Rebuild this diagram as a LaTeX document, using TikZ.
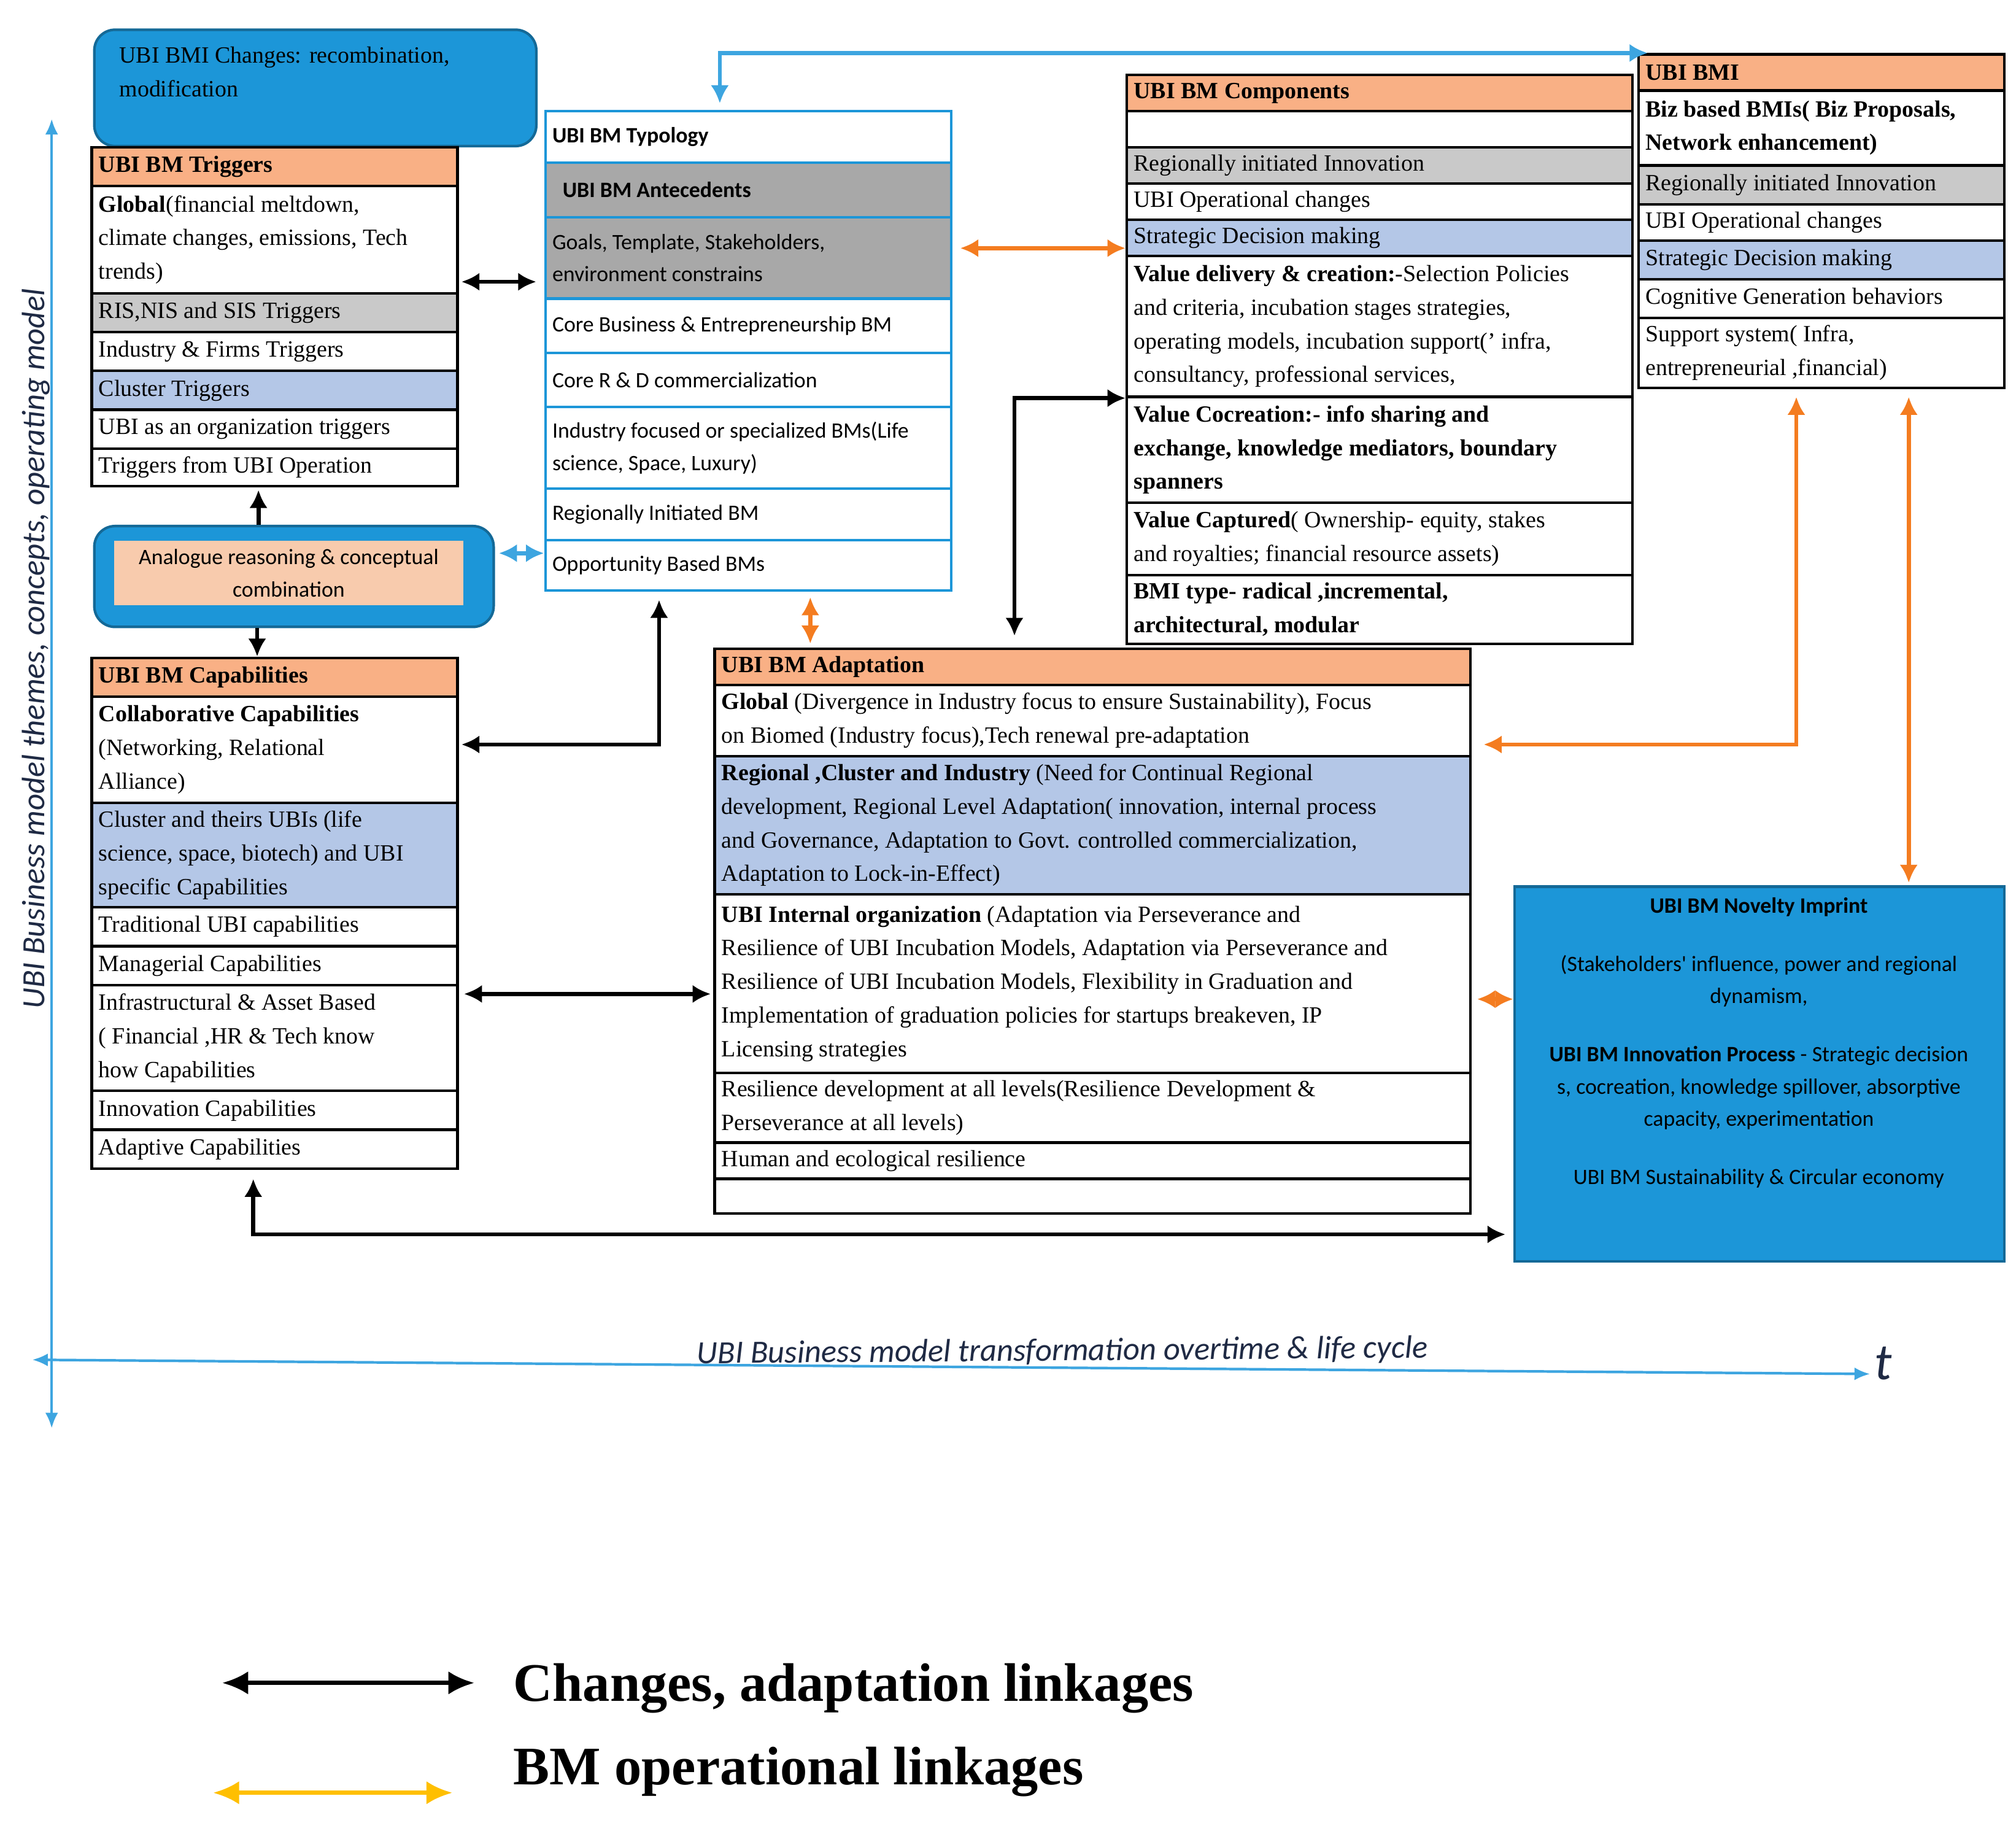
\documentclass[tikz,border=0pt]{standalone}
\usepackage{fontspec}
\setmainfont{Liberation Serif}
\newfontfamily\sansf{Carlito}
\usetikzlibrary{arrows.meta,calc}
\definecolor{hdr}{HTML}{F9B085}
\definecolor{gry}{HTML}{C9C9C9}
\definecolor{dgry}{HTML}{A8A8A8}
\definecolor{blu}{HTML}{B4C7E7}
\definecolor{bbox}{HTML}{1C96D8}
\definecolor{salm}{HTML}{F8CBAD}
\definecolor{orng}{HTML}{F47C20}
\definecolor{yel}{HTML}{FFBF00}
\definecolor{axc}{HTML}{3DA5E0}
\definecolor{navy}{HTML}{1F2A44}
\tikzset{
 box/.style={draw=black,line width=1pt,anchor=north west,inner sep=0pt},
 bbx/.style={box,draw=bbox},
 txt/.style={anchor=west,align=left,inner sep=0pt,font=\fontsize{9}{13}\selectfont},
 stxt/.style={anchor=west,align=left,inner sep=0pt,font=\sansf\fontsize{8.5}{12.5}\selectfont},
 blk/.style={line width=1.6pt,{Latex[length=7pt,width=7pt]}-{Latex[length=7pt,width=7pt]}},
 org/.style={blk,draw=orng},
 blu/.style={blk,draw=axc},
}
% \cell{name}{x1}{x2}{y1}{y2}{fill}{style}{text}
\newcommand\cell[8]{%
 \node[box,fill=#6,minimum width={(#3-#2)*0.5pt},minimum height={(#5-#4)*0.5pt}] (#1) at (#2,#4) {};
 \node[#7] at ($(#1.west)+(6,0)$) {#8};}
\newcommand\bcell[8]{%
 \node[bbx,fill=#6,minimum width={(#3-#2)*0.5pt},minimum height={(#5-#4)*0.5pt}] (#1) at (#2,#4) {};
 \node[#7] at ($(#1.west)+(6,0)$) {#8};}
\begin{document}
\begin{tikzpicture}[x=0.5pt,y=-0.5pt]
\useasboundingbox (0,0) rectangle (1560,1410);
\fill[white] (0,0) rectangle (1560,1410);
% top-left blue box
\node[draw=bbox!70!black,fill=bbox,rounded corners=8pt,line width=1pt,anchor=north west,minimum width=171pt,minimum height=45pt] (chg) at (72,22) {};
\node[txt,anchor=north west] at (92,36) {UBI BMI Changes: recombination,\\modification};
% Triggers
\cell{th}{70}{353}{113}{143}{hdr}{txt}{\textbf{UBI BM Triggers}}
\cell{t1}{70}{353}{143}{226}{white}{txt}{\textbf{Global}(financial meltdown,\\climate changes, emissions, Tech\\trends)}
\cell{t2}{70}{353}{226}{256}{gry}{txt}{RIS,NIS and SIS Triggers}
\cell{t3}{70}{353}{256}{286}{white}{txt}{Industry \& Firms Triggers}
\cell{t4}{70}{353}{286}{316}{blu}{txt}{Cluster Triggers}
\cell{t5}{70}{353}{316}{346}{white}{txt}{UBI as an organization triggers}
\cell{t6}{70}{353}{346}{375}{white}{txt}{Triggers from UBI Operation}
% Analogue
\node[draw=bbox!70!black,fill=bbox,rounded corners=8pt,line width=1pt,anchor=north west,minimum width=154.5pt,minimum height=39pt] (ana) at (72,406) {};
\node[fill=salm,anchor=north west,minimum width=135pt,minimum height=25pt,inner sep=0pt] (anai) at (88,418) {};
\node[align=center,inner sep=0pt,font=\sansf\fontsize{8.5}{12.5}\selectfont] at (anai.center) {Analogue reasoning \& conceptual\\combination};
% Capabilities
\cell{ch}{70}{353}{508}{538}{hdr}{txt}{\textbf{UBI BM Capabilities}}
\cell{c1}{70}{353}{538}{620}{white}{txt}{\textbf{Collaborative Capabilities}\\(Networking, Relational\\Alliance)}
\cell{c2}{70}{353}{620}{701}{blu}{txt}{Cluster and theirs UBIs (life\\science, space, biotech) and UBI\\specific Capabilities}
\cell{c3}{70}{353}{701}{731}{white}{txt}{Traditional UBI capabilities}
\cell{c4}{70}{353}{731}{761}{white}{txt}{Managerial Capabilities}
\cell{c5}{70}{353}{761}{843}{white}{txt}{Infrastructural \& Asset Based\\( Financial ,HR \& Tech know\\how Capabilities}
\cell{c6}{70}{353}{843}{873}{white}{txt}{Innovation Capabilities}
\cell{c7}{70}{353}{873}{903}{white}{txt}{Adaptive Capabilities}
% Typology
\bcell{y0}{421}{735}{85}{125}{white}{stxt}{\textbf{UBI BM Typology}}
\bcell{y1}{421}{735}{125}{167}{dgry}{stxt}{\hspace{4pt}\textbf{UBI BM Antecedents}}
\bcell{y2}{421}{735}{167}{230}{dgry}{stxt}{Goals, Template, Stakeholders,\\environment constrains}
\bcell{y3}{421}{735}{230}{272}{white}{stxt}{Core Business \& Entrepreneurship BM}
\bcell{y4}{421}{735}{272}{314}{white}{stxt}{Core R \& D commercialization}
\bcell{y5}{421}{735}{314}{377}{white}{stxt}{Industry focused or specialized BMs(Life\\science, Space, Luxury)}
\bcell{y6}{421}{735}{377}{417}{white}{stxt}{Regionally Initiated BM}
\bcell{y7}{421}{735}{417}{456}{white}{stxt}{Opportunity Based BMs}
% Components
\cell{mh}{871}{1262}{57}{85}{hdr}{txt}{\textbf{UBI BM Components}}
\cell{m0}{871}{1262}{85}{113}{white}{txt}{}
\cell{m1}{871}{1262}{113}{141}{gry}{txt}{Regionally initiated Innovation}
\cell{m2}{871}{1262}{141}{169}{white}{txt}{UBI Operational changes}
\cell{m3}{871}{1262}{169}{197}{blu}{txt}{Strategic Decision making}
\cell{m4}{871}{1262}{197}{306}{white}{txt}{\textbf{Value delivery \& creation:}-Selection Policies\\and criteria, incubation stages strategies,\\operating models, incubation support(' infra,\\consultancy, professional services,}
\cell{m5}{871}{1262}{306}{388}{white}{txt}{\textbf{Value Cocreation:- info sharing and}\\\textbf{exchange, knowledge mediators, boundary}\\\textbf{spanners}}
\cell{m6}{871}{1262}{388}{444}{white}{txt}{\textbf{Value Captured}( Ownership- equity, stakes\\and royalties; financial resource assets)}
\cell{m7}{871}{1262}{444}{497}{white}{txt}{\textbf{BMI type- radical ,incremental,}\\\textbf{architectural, modular}}
% UBI BMI
\cell{bh}{1267}{1550}{41}{69}{hdr}{txt}{\textbf{UBI BMI}}
\cell{b1}{1267}{1550}{69}{127}{white}{txt}{\textbf{Biz based BMIs( Biz Proposals,}\\\textbf{Network enhancement)}}
\cell{b2}{1267}{1550}{127}{157}{gry}{txt}{Regionally initiated Innovation}
\cell{b3}{1267}{1550}{157}{185}{white}{txt}{UBI Operational changes}
\cell{b4}{1267}{1550}{185}{215}{blu}{txt}{Strategic Decision making}
\cell{b5}{1267}{1550}{215}{245}{white}{txt}{Cognitive Generation behaviors}
\cell{b6}{1267}{1550}{245}{299}{white}{txt}{Support system( Infra,\\entrepreneurial ,financial)}
% Adaptation
\cell{ah}{552}{1137}{501}{529}{hdr}{txt}{\textbf{UBI BM Adaptation}}
\cell{a1}{552}{1137}{529}{584}{white}{txt}{\textbf{Global} (Divergence in Industry focus to ensure Sustainability), Focus\\on Biomed (Industry focus),Tech renewal pre-adaptation}
\cell{a2}{552}{1137}{584}{691}{blu}{txt}{\textbf{Regional ,Cluster and Industry} (Need for Continual Regional\\development, Regional Level Adaptation( innovation, internal process\\and Governance, Adaptation to Govt. controlled commercialization,\\Adaptation to Lock-in-Effect)}
\cell{a3}{552}{1137}{691}{829}{white}{txt}{\textbf{UBI Internal organization} (Adaptation via Perseverance and\\Resilience of UBI Incubation Models, Adaptation via Perseverance and\\Resilience of UBI Incubation Models, Flexibility in Graduation and\\Implementation of graduation policies for startups breakeven, IP\\Licensing strategies}
\cell{a4}{552}{1137}{829}{883}{white}{txt}{Resilience development at all levels(Resilience Development \&\\Perseverance at all levels)}
\cell{a5}{552}{1137}{883}{911}{white}{txt}{Human and ecological resilience}
\cell{a6}{552}{1137}{911}{938}{white}{txt}{}
% Novelty
\node[draw=bbox!70!black,fill=bbox,line width=1pt,anchor=north west,minimum width=189.5pt,minimum height=145pt] (nov) at (1171,685) {};
\node[align=center,inner sep=0pt,font=\sansf\fontsize{8.5}{12.5}\selectfont,anchor=north] at (1361,694) {\textbf{UBI BM Novelty Imprint}\\[10pt](Stakeholders' influence, power and regional\\dynamism,\\[10pt]\textbf{UBI BM Innovation Process} - Strategic decision\\s, cocreation, knowledge spillover, absorptive\\capacity, experimentation\\[10pt]UBI BM Sustainability \& Circular economy};
% connectors
\draw[blk] (t1.east |- 0,218) ++(2,0) -- ($(y2.west |- 0,218)+(-6,0)$);
\draw[blu] ($(ana.east |- 0,428)+(3,0)$) -- (y7.west |- 0,428);
\draw[blk,{Latex[length=7pt,width=7pt]}-] ($(t6.south -| 200,0)+(0,2)$) -- (ana.north -| 200,0);
\draw[blk,-{Latex[length=7pt,width=7pt]}] (ana.south -| 199,0) -- (ch.north -| 199,0);
\draw[blk] ($(y7.south -| 510,0)+(0,6)$) |- ($(c1.east |- 0,576)+(2,0)$);
\draw[org] ($(y2.east |- 0,192)+(6,0)$) -- (m3.west |- 0,192);
\draw[org] ($(y7.south -| 627,0)+(0,4)$) -- ($(ah.north -| 627,0)+(0,-3)$);
\draw[blk] (m4.south west) -| ($(m7.south -| 785,0)+(0,-7)$);
\draw[blu] ($(y0.north -| 557,0)+(0,-5)$) |- ($(bh.north west)+(8,0)$);
\draw[org] ($(b6.south -| 1390,0)+(0,6)$) |- ($(a1.east |- 0,576)+(9,0)$);
\draw[org] ($(b6.south -| 1477,0)+(0,6)$) -- ($(nov.north -| 1477,0)+(0,-2)$);
\draw[org] ($(a3.east |- 0,773)+(4,0)$) -- (nov.west |- 0,773);
\draw[blk] ($(c5.east |- 0,769)+(4,0)$) -- ($(a3.west |- 0,769)+(-2,0)$);
\draw[blk] ($(c7.south -| 196,0)+(0,7)$) |- ($(nov.west |- 0,955)+(-6,0)$);
% axes
\draw[line width=1pt,draw=axc,{Latex[length=6pt,width=5pt]}-{Latex[length=6pt,width=5pt]}] (40,92) coordinate (ya) -- (40,1105) coordinate (yb);
\draw[line width=1pt,draw=axc,{Latex[length=6pt,width=5pt]}-{Latex[length=6pt,width=5pt]}] (25,1052) coordinate (xa) -- (1447,1063) coordinate (xb);
\node[font=\sansf\itshape\fontsize{12.5}{14}\selectfont,text=navy,rotate=0.45] (xl) at (822,1046) {UBI Business model transformation overtime \& life cycle};
\node[font=\sansf\itshape\fontsize{20}{22}\selectfont,text=navy] (tl) at (1457,1055) {t};
\node[font=\sansf\itshape\fontsize{12.5}{14}\selectfont,text=navy,rotate=90] (yl) at (28,502) {UBI Business model themes, concepts, operating model};
% legend
\coordinate (l1) at (172,1302); \coordinate (l2) at (367,1302);
\draw[line width=1.6pt,{Latex[length=10pt,width=9pt]}-{Latex[length=10pt,width=9pt]}] (l1) -- (l2);
\coordinate (l3) at (165,1387); \coordinate (l4) at (350,1387);
\draw[line width=1.6pt,draw=yel,{Latex[length=10pt,width=9pt]}-{Latex[length=10pt,width=9pt]}] (l3) -- (l4);
\node[anchor=west,inner sep=0pt,font=\fontsize{21}{24}\bfseries\selectfont] (lt1) at (397,1306) {Changes, adaptation linkages};
\node[anchor=west,inner sep=0pt,font=\fontsize{21}{24}\bfseries\selectfont] (lt2) at (397,1371) {BM operational linkages};
\end{tikzpicture}
\end{document}
